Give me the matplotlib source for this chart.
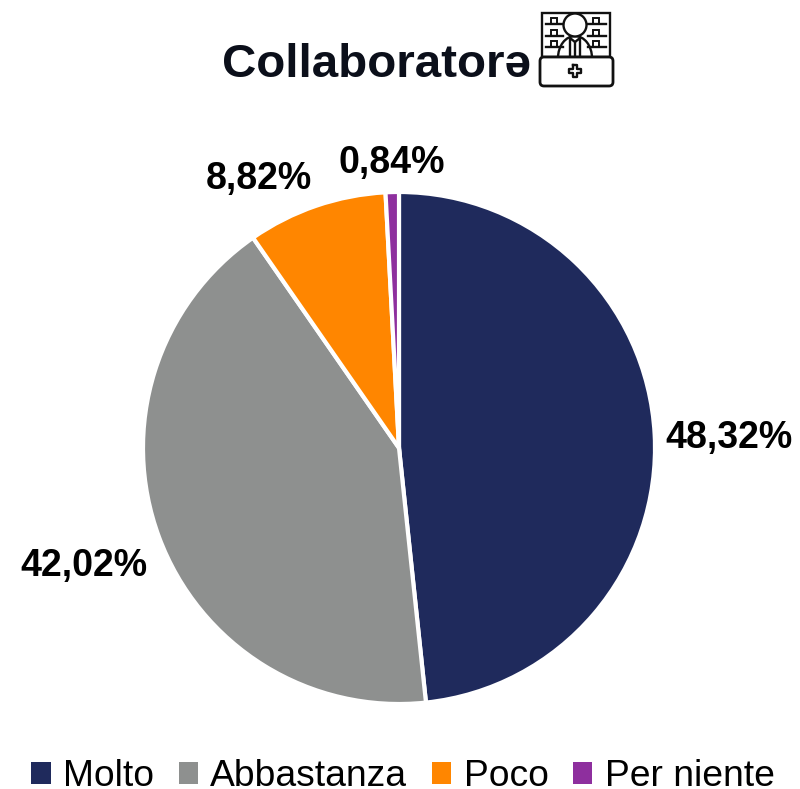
import numpy as np
import matplotlib
matplotlib.use('Agg')
import matplotlib.pyplot as plt
from matplotlib.patches import Patch, Circle, FancyBboxPatch, Rectangle, Arc

plt.rcParams['font.family'] = ['Liberation Sans', 'DejaVu Sans']

categories = ['Molto', 'Abbastanza', 'Poco', 'Per niente']
values = [48.32, 42.02, 8.82, 0.84]
value_labels = ['48,32%', '42,02%', '8,82%', '0,84%']
colors = ['#1F2A5C', '#8E908F', '#FF8600', '#8E2F9E']
title = 'Collaboratorə'
label_offsets = [(330, 10), (-315, -118), (-140, 269), (-7, 285)]

W, H = 800, 789
fig = plt.figure(figsize=(W / 100, H / 100), dpi=100)
cx, cy, r = 399, 448, 256
ax = fig.add_axes([(cx - r) / W, 1 - (cy + r) / H, 2 * r / W, 2 * r / H])
ax.pie(values, colors=colors, startangle=90, counterclock=False, radius=1,
       wedgeprops=dict(edgecolor='white', linewidth=3))
ax.set_xlim(-1, 1)
ax.set_ylim(-1, 1)
ax.set_aspect('equal')

for lab, (dx, dy) in zip(value_labels, label_offsets):
    ax.text(dx / r, dy / r, lab, ha='center', va='center', fontsize=27,
            fontweight='bold', color='black', clip_on=False)

ov = fig.add_axes([0, 0, 1, 1], facecolor='none')
ov.set_xlim(0, W)
ov.set_ylim(H, 0)
ov.axis('off')
ov.text(376.5, 65, title, ha='center', va='center', fontsize=34.2,
        fontweight='bold', color='#0B0F1A')

k = '#111111'
lw = 1.7
ov.add_patch(Rectangle((542, 13), 68, 44, fill=False, ec=k, lw=lw))
ov.add_patch(FancyBboxPatch((540, 57), 73, 29, boxstyle='round,pad=0,rounding_size=4',
                            fc='white', ec=k, lw=2, zorder=3))
ov.add_patch(Circle((575, 25), 11.5, fc='white', ec=k, lw=lw, zorder=2))
ov.add_patch(Arc((575, 58), 34, 44, theta1=180, theta2=360, ec=k, lw=lw))
ov.plot([570, 570, 575, 580, 580], [57, 38, 42, 38, 57], color=k, lw=lw)
ov.plot([575, 575], [42, 57], color=k, lw=lw)
for x0, x1 in [(546, 563), (588, 606)]:
    for y in [24, 36, 47]:
        ov.plot([x0, x1], [y, y], color=k, lw=lw)
        ov.add_patch(Rectangle((x0 + 5, y - 6), 6, 6, fill=False, ec=k, lw=1.4))
px, py = 575, 71
ov.plot([px - 2, px - 2, px - 6, px - 6, px - 2, px - 2, px + 2, px + 2, px + 6, px + 6, px + 2, px + 2, px - 2],
        [py - 6, py - 2, py - 2, py + 2, py + 2, py + 6, py + 6, py + 2, py + 2, py - 2, py - 2, py - 6, py - 6],
        color=k, lw=lw, zorder=4)

handles = [Patch(facecolor=c, edgecolor='none') for c in colors]
fig.legend(handles, categories, loc='center', bbox_to_anchor=(403 / W, 1 - 777 / H),
           ncol=4, frameon=False, fontsize=26.8, handlelength=0.52, handleheight=0.52,
           handletextpad=0.33, columnspacing=0.66, borderpad=0, borderaxespad=0)

fig.savefig('out.png', dpi=100)
